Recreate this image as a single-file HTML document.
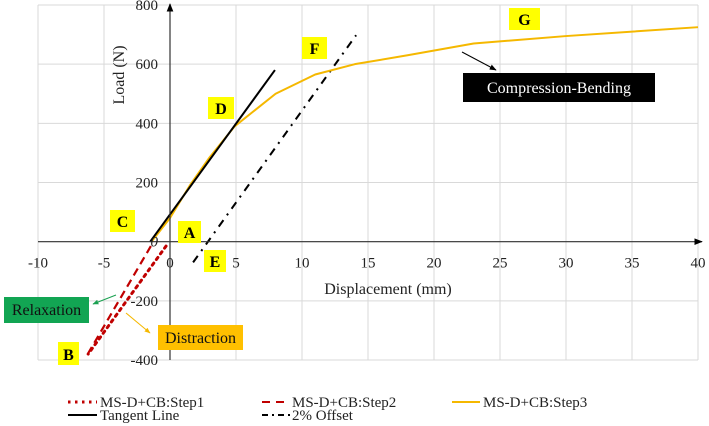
<!DOCTYPE html>
<html><head><meta charset="utf-8"><style>
html,body{margin:0;padding:0;background:#fff;}
svg{display:block;font-family:"Liberation Serif",serif;}
</style></head><body>
<svg id="chart" width="709" height="426" viewBox="0 0 709 426" xmlns="http://www.w3.org/2000/svg">
<defs>
<marker id="ah" viewBox="0 0 10 10" refX="9" refY="5" markerWidth="7" markerHeight="7" orient="auto"><path d="M0,1 L10,5 L0,9 z" fill="#000"/></marker>
<marker id="ahg" viewBox="0 0 10 10" refX="9" refY="5" markerWidth="6" markerHeight="6" orient="auto"><path d="M0,1 L10,5 L0,9 z" fill="#1aa050"/></marker>
<marker id="aho" viewBox="0 0 10 10" refX="9" refY="5" markerWidth="6" markerHeight="6" orient="auto"><path d="M0,1 L10,5 L0,9 z" fill="#f5b800"/></marker>
</defs>
<g id="grid"></g>
<g id="series"></g>
<g id="axes"></g>
<g id="ticks" font-size="15" fill="#222"></g>
<text x="388" y="294" font-size="16" text-anchor="middle" fill="#222">Displacement (mm)</text>
<text transform="translate(124,75) rotate(-90)" font-size="16" text-anchor="middle" fill="#222">Load (N)</text>

<g font-size="16" font-weight="bold" text-anchor="middle">
<rect x="110" y="210" width="25" height="22" fill="#ffff00"/><text x="122.5" y="227">C</text>
<rect x="178" y="221" width="23" height="22" fill="#ffff00"/><text x="189.5" y="238">A</text>
<rect x="204" y="250" width="22" height="22" fill="#ffff00"/><text x="215" y="267">E</text>
<rect x="208" y="97" width="26" height="22" fill="#ffff00"/><text x="221" y="114">D</text>
<rect x="302" y="37" width="25" height="22" fill="#ffff00"/><text x="314.5" y="54">F</text>
<rect x="509" y="8" width="31" height="22" fill="#ffff00"/><text x="524.5" y="25">G</text>
<rect x="58" y="342" width="21" height="23" fill="#ffff00"/><text x="68.5" y="360">B</text>
</g>
<g>
<rect x="4" y="297" width="85" height="26" fill="#12a553"/>
<text x="46.5" y="315" font-size="16" text-anchor="middle" fill="#111">Relaxation</text>
<line x1="116" y1="295" x2="93" y2="304" stroke="#1aa050" stroke-width="1" marker-end="url(#ahg)"/>
</g>
<g>
<rect x="158" y="325" width="85" height="25" fill="#ffc000"/>
<text x="200.5" y="343" font-size="16" text-anchor="middle" fill="#111">Distraction</text>
<line x1="126" y1="313" x2="150" y2="333" stroke="#f5b800" stroke-width="1" marker-end="url(#aho)"/>
</g>
<g>
<rect x="463" y="73" width="192" height="29" fill="#000"/>
<text x="559" y="93" font-size="16" text-anchor="middle" fill="#fff">Compression-Bending</text>
<line x1="462" y1="52" x2="496" y2="70" stroke="#000" stroke-width="1" marker-end="url(#ah)"/>
</g>

<g font-size="15" fill="#222">
<g><line x1="68" y1="402" x2="97" y2="402" stroke="#c00000" stroke-width="3" stroke-dasharray="2.5 4.5"/><text x="100" y="407">MS-D+CB:Step1</text></g>
<g><line x1="262" y1="402" x2="290" y2="402" stroke="#c00000" stroke-width="2" stroke-dasharray="8 6"/><text x="292" y="407">MS-D+CB:Step2</text></g>
<g><line x1="452" y1="402" x2="480" y2="402" stroke="#f5b800" stroke-width="2"/><text x="483" y="407">MS-D+CB:Step3</text></g>
<g><line x1="68" y1="415" x2="97" y2="415" stroke="#000" stroke-width="2"/><text x="100" y="420">Tangent Line</text></g>
<g><line x1="262" y1="415" x2="290" y2="415" stroke="#000" stroke-width="2" stroke-dasharray="6 4 2 4"/><text x="292" y="420">2% Offset</text></g>
</g>
</svg>
<script>
const xTicks=[-10,-5,0,5,10,15,20,25,30,35,40];
const yTicks=[-400,-200,0,200,400,600,800];
const step1X=[-0.3,-6.2];
const step1Y=[-15,-380];
const step2X=[-1.45,-6.3];
const step2Y=[-15,-385];
const step3X=[-1.4,0,1.5,3,4.9,8,11,14,18,23,30,40];
const step3Y=[0,80,190,285,390,500,565,600,630,670,695,725];
const tangentX=[-1.5,7.95];
const tangentY=[0,580];
const offsetX=[1.75,14.1];
const offsetY=[-70,698];

const X0=38,X1=698,Y0=360,Y1=5;
const sx=v=>X0+(v+10)/50*(X1-X0);
const sy=v=>Y0-(v+400)/1200*(Y0-Y1);
const NS='http://www.w3.org/2000/svg';
function mk(tag,parent,attrs){const e=document.createElementNS(NS,tag);for(const k in attrs)e.setAttribute(k,attrs[k]);parent.appendChild(e);return e;}
const grid=document.getElementById('grid');
xTicks.forEach(t=>{const l=mk('line',grid,{x1:sx(t),x2:sx(t),y1:Y1,y2:Y0,stroke:'#d9d9d9','stroke-width':1});

});
yTicks.forEach(t=>{const l=mk('line',grid,{x1:X0,x2:X1,y1:sy(t),y2:sy(t),stroke:'#d9d9d9','stroke-width':1});

});
const axes=document.getElementById('axes');
const xa=mk('line',axes,{x1:X0,x2:X1+4,y1:sy(0),y2:sy(0),stroke:'#333','stroke-width':1.2,'marker-end':'url(#ah)'});


const ya=mk('line',axes,{x1:sx(0),x2:sx(0),y1:Y0,y2:Y1-1,stroke:'#333','stroke-width':1.2,'marker-end':'url(#ah)'});


const ticks=document.getElementById('ticks');
xTicks.forEach(t=>{const e=mk('text',ticks,{x:sx(t),y:sy(0)+26,'text-anchor':'middle'});e.textContent=t;

});
yTicks.forEach(t=>{if(t===0)return;const e=mk('text',ticks,{x:sx(0)-12,y:sy(t)+5,'text-anchor':'end'});e.textContent=t;

});
const z=mk('text',ticks,{x:sx(0)-12,y:sy(0)+5,'text-anchor':'end','font-style':'italic'});z.textContent='0';


const series=document.getElementById('series');
function line(xs,ys,style,name){const pts=xs.map((x,i)=>sx(x)+','+sy(ys[i])).join(' ');
const p=mk('polyline',series,Object.assign({points:pts,fill:'none'},style));

}
line(offsetX,offsetY,{stroke:'#000','stroke-width':2,'stroke-dasharray':'8 6 2 6'},'offset-line');
line(step3X,step3Y,{stroke:'#f5b800','stroke-width':2,'stroke-linejoin':'round'},'step3-line');
line(tangentX,tangentY,{stroke:'#000','stroke-width':2},'tangent-line');
line(step2X,step2Y,{stroke:'#c00000','stroke-width':2.2,'stroke-dasharray':'8 5'},'step2-line');
line(step1X,step1Y,{stroke:'#c00000','stroke-width':3,'stroke-dasharray':'2.5 4.5','stroke-linecap':'round'},'step1-line');
</script>
</body></html>
